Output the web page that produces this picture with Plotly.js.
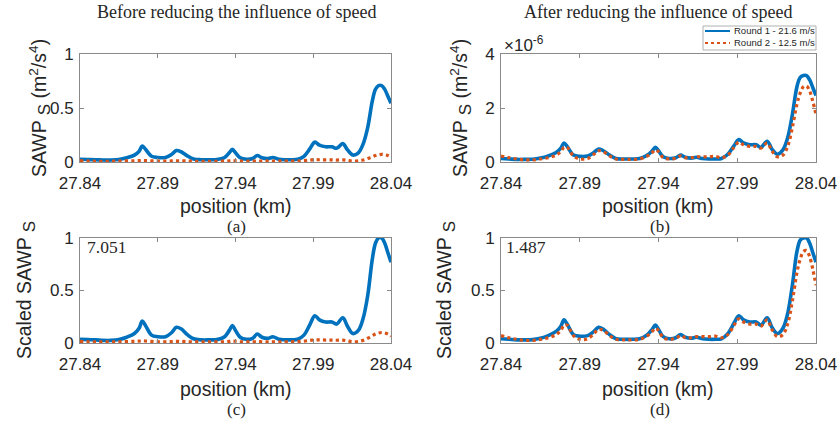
<!DOCTYPE html>
<html>
<head>
<meta charset="utf-8">
<script src="https://cdn.plot.ly/plotly-3.0.1.min.js"></script>
<style>html,body{margin:0;padding:0;background:#fff;}#chart{width:840px;height:424px;}</style>
</head>
<body>
<div id="chart"></div>
<script>
// position (km) knots shared by all series
const positionKm = [27.840,27.845,27.850,27.855,27.860,27.865,27.870,27.875,27.878,27.880,27.882,27.886,27.890,27.895,27.899,27.902,27.905,27.909,27.913,27.918,27.923,27.928,27.933,27.936,27.938,27.940,27.943,27.947,27.951,27.954,27.957,27.961,27.964,27.968,27.972,27.976,27.980,27.984,27.988,27.991,27.994,27.998,28.002,28.005,28.009,28.012,28.0155,28.019,28.022,28.025,28.028,28.030,28.032,28.034,28.036,28.038,28.040];

// (a) before reducing the influence of speed, SAWP_S (m^2/s^4)
const round1Before = [0.025,0.023,0.021,0.018,0.018,0.023,0.039,0.064,0.099,0.148,0.120,0.053,0.042,0.042,0.071,0.106,0.095,0.057,0.028,0.021,0.021,0.023,0.042,0.085,0.117,0.085,0.039,0.025,0.032,0.060,0.039,0.032,0.042,0.025,0.021,0.021,0.025,0.053,0.127,0.184,0.156,0.141,0.141,0.127,0.170,0.113,0.064,0.085,0.163,0.318,0.566,0.672,0.707,0.707,0.672,0.608,0.544];
const round2Before = [0.011,0.008,0.007,0.007,0.007,0.008,0.010,0.011,0.013,0.014,0.013,0.011,0.008,0.008,0.010,0.011,0.011,0.009,0.007,0.007,0.007,0.007,0.008,0.011,0.013,0.011,0.008,0.007,0.008,0.009,0.008,0.008,0.008,0.008,0.008,0.008,0.009,0.013,0.018,0.021,0.021,0.020,0.020,0.018,0.020,0.014,0.008,0.011,0.018,0.032,0.049,0.060,0.067,0.071,0.067,0.060,0.046];

// (b) after reducing the influence of speed, SAWP_S in units of 1e-6 m^2/s^4
const round1After_e6 = [0.128,0.112,0.096,0.096,0.102,0.144,0.224,0.352,0.512,0.704,0.576,0.256,0.208,0.224,0.352,0.480,0.416,0.256,0.128,0.112,0.112,0.128,0.256,0.416,0.544,0.416,0.192,0.128,0.160,0.256,0.176,0.144,0.176,0.128,0.112,0.112,0.128,0.288,0.608,0.832,0.704,0.640,0.640,0.544,0.768,0.480,0.288,0.448,0.896,1.760,2.816,3.136,3.200,3.200,3.040,2.752,2.464];
const round2After_e6 = [0.224,0.160,0.112,0.080,0.080,0.112,0.160,0.256,0.384,0.544,0.544,0.224,0.112,0.128,0.288,0.416,0.384,0.224,0.112,0.096,0.096,0.112,0.224,0.352,0.448,0.384,0.160,0.112,0.144,0.224,0.160,0.160,0.192,0.192,0.192,0.208,0.160,0.256,0.544,0.736,0.640,0.576,0.576,0.512,0.704,0.416,0.192,0.256,0.576,1.280,2.176,2.560,2.784,2.816,2.624,2.240,1.760];

// (c) scaled, before
const round1BeforeScaled = [0.035,0.032,0.03,0.025,0.025,0.033,0.055,0.09,0.14,0.21,0.17,0.075,0.06,0.06,0.10,0.15,0.135,0.08,0.04,0.03,0.03,0.032,0.06,0.12,0.165,0.12,0.055,0.035,0.045,0.085,0.055,0.045,0.06,0.035,0.03,0.03,0.035,0.075,0.18,0.26,0.22,0.20,0.20,0.18,0.24,0.16,0.09,0.12,0.23,0.45,0.80,0.95,1.0,1.0,0.95,0.86,0.77];
const round2BeforeScaled = [0.015,0.012,0.01,0.01,0.01,0.012,0.014,0.016,0.018,0.02,0.019,0.015,0.012,0.012,0.014,0.016,0.015,0.013,0.01,0.01,0.01,0.01,0.012,0.015,0.018,0.016,0.012,0.01,0.011,0.013,0.012,0.011,0.012,0.011,0.011,0.012,0.013,0.018,0.025,0.03,0.03,0.028,0.028,0.026,0.028,0.02,0.012,0.015,0.025,0.045,0.07,0.085,0.095,0.1,0.095,0.085,0.065];

// (d) scaled, after
const round1AfterScaled = [0.04,0.035,0.03,0.03,0.032,0.045,0.07,0.11,0.16,0.22,0.18,0.08,0.065,0.07,0.11,0.15,0.13,0.08,0.04,0.035,0.035,0.04,0.08,0.13,0.17,0.13,0.06,0.04,0.05,0.08,0.055,0.045,0.055,0.04,0.035,0.035,0.04,0.09,0.19,0.26,0.22,0.20,0.20,0.17,0.24,0.15,0.09,0.14,0.28,0.55,0.88,0.98,1.0,1.0,0.95,0.86,0.77];
const round2AfterScaled = [0.07,0.05,0.035,0.025,0.025,0.035,0.05,0.08,0.12,0.17,0.17,0.07,0.035,0.04,0.09,0.13,0.12,0.07,0.035,0.03,0.03,0.035,0.07,0.11,0.14,0.12,0.05,0.035,0.045,0.07,0.05,0.05,0.06,0.06,0.06,0.065,0.05,0.08,0.17,0.23,0.20,0.18,0.18,0.16,0.22,0.13,0.06,0.08,0.18,0.40,0.68,0.80,0.87,0.88,0.82,0.70,0.55];

const xTicks = [27.84, 27.89, 27.94, 27.99, 28.04];
const xTickText = ['27.84','27.89','27.94','27.99','28.04'];
const seriesNames = ['Round 1 - 21.6 m/s', 'Round 2 - 12.5 m/s'];
const panelTitles = ['Before reducing the influence of speed', 'After reducing the influence of speed'];
const panelLabels = ['(a)','(b)','(c)','(d)'];
const scaleFactors = ['7.051','1.487'];

const W = 840, H = 424;
const px = v => v / W;
const py = v => 1 - v / H;

const blue = '#0072BD', red = '#D95319';
const sansFont = '"Liberation Sans", Arial, sans-serif';
const serifFont = '"Liberation Serif", "Times New Roman", serif';
const tickColor = '#262626';
const frameColor = '#8a8a8a';

function mkTraces(y1, y2, xa, ya) {
  return [
    {x: positionKm, y: y1, xaxis: xa, yaxis: ya, type: 'scatter', mode: 'lines', name: seriesNames[0],
     line: {color: blue, width: 3.6, shape: 'spline', smoothing: 1}, showlegend: false},
    {x: positionKm, y: y2, xaxis: xa, yaxis: ya, type: 'scatter', mode: 'lines', name: seriesNames[1],
     line: {color: red, width: 3.2, dash: 'dot', shape: 'spline', smoothing: 1}, showlegend: false}
  ];
}

const data = [].concat(
  mkTraces(round1Before, round2Before, 'x', 'y'),
  mkTraces(round1After_e6, round2After_e6, 'x2', 'y2'),
  mkTraces(round1BeforeScaled, round2BeforeScaled, 'x3', 'y3'),
  mkTraces(round1AfterScaled, round2AfterScaled, 'x4', 'y4')
);

const leftDom = [px(80), px(391)], rightDom = [px(501), px(816)];
const topDom = [py(162), py(54)], botDom = [py(343), py(238)];

function xax(dom, anchor) {
  return {domain: dom, anchor: anchor, range: [27.84, 28.04], tickvals: xTicks, ticktext: xTickText,
    showline: true, mirror: 'ticks', linecolor: frameColor, linewidth: 1, ticks: 'inside', ticklen: 4,
    tickcolor: frameColor, showgrid: false, zeroline: false, ticklabelstandoff: 6,
    tickfont: {family: sansFont, size: 17, color: tickColor}};
}
function yax(dom, anchor, range, tv) {
  return {domain: dom, anchor: anchor, range: range, tickvals: tv, ticktext: tv.map(String),
    showline: true, mirror: 'ticks', linecolor: frameColor, linewidth: 1, ticks: 'inside', ticklen: 4,
    tickcolor: frameColor, showgrid: false, zeroline: false, ticklabelstandoff: 2,
    tickfont: {family: sansFont, size: 17, color: tickColor}};
}

const ann = [];
function addText(text, x, y, size, family, opts) {
  ann.push(Object.assign({text: text, x: px(x), y: py(y), xref: 'paper', yref: 'paper', showarrow: false,
    font: {family: family, size: size, color: tickColor}, xanchor: 'center', yanchor: 'middle'}, opts || {}));
}
const subS = ' <sub><span style="font-size:17px">S</span></sub>';
addText(panelTitles[0], 236, 12, 18, serifFont);
addText(panelTitles[1], 658, 12, 18, serifFont);
addText('position (km)', 236, 206, 19.5, sansFont);
addText('position (km)', 658, 206, 19.5, sansFont);
addText('position (km)', 236, 389, 19.5, sansFont);
addText('position (km)', 658, 389, 19.5, sansFont);
addText(panelLabels[0], 236, 226, 17, serifFont);
addText(panelLabels[1], 660, 226, 17, serifFont);
addText(panelLabels[2], 236, 409, 17, serifFont);
addText(panelLabels[3], 660, 409, 17, serifFont);
addText('SAWP' + subS + ' (m<sup>2</sup>/s<sup>4</sup>)', 40, 108, 19.5, sansFont, {textangle: -90});
addText('SAWP' + subS + ' (m<sup>2</sup>/s<sup>4</sup>)', 461, 108, 19.5, sansFont, {textangle: -90});
addText('Scaled SAWP' + subS, 26, 290, 19.5, sansFont, {textangle: -90});
addText('Scaled SAWP' + subS, 446, 290, 19.5, sansFont, {textangle: -90});
addText(scaleFactors[0], 85, 247, 17.5, serifFont, {xanchor: 'left'});
addText(scaleFactors[1], 504, 247, 17.5, serifFont, {xanchor: 'left'});
addText('×10<sup>-6</sup>', 502, 44, 17, sansFont, {xanchor: 'left'});

// hand-placed legend (box, samples, labels)
const legendShapes = [
  {type: 'rect', xref: 'paper', yref: 'paper', x0: px(703), x1: px(816), y0: py(50), y1: py(26),
   line: {color: '#b0b0b0', width: 1}, fillcolor: '#fff', layer: 'above'},
  {type: 'line', xref: 'paper', yref: 'paper', x0: px(705), x1: px(730), y0: py(31), y1: py(31),
   line: {color: blue, width: 2}},
  {type: 'line', xref: 'paper', yref: 'paper', x0: px(705), x1: px(730), y0: py(43), y1: py(43),
   line: {color: red, width: 2, dash: 'dot'}}
];
addText(seriesNames[0], 732, 31, 9.5, sansFont, {xanchor: 'left'});
addText(seriesNames[1], 732, 43, 9.5, sansFont, {xanchor: 'left'});

const layout = {
  width: W, height: H, margin: {l: 0, r: 0, t: 0, b: 0},
  paper_bgcolor: '#fff', plot_bgcolor: '#fff',
  showlegend: false,
  xaxis: xax(leftDom, 'y'), yaxis: yax(topDom, 'x', [0, 1], [0, 0.5, 1]),
  xaxis2: xax(rightDom, 'y2'), yaxis2: yax(topDom, 'x2', [0, 4], [0, 2, 4]),
  xaxis3: xax(leftDom, 'y3'), yaxis3: yax(botDom, 'x3', [0, 1], [0, 0.5, 1]),
  xaxis4: xax(rightDom, 'y4'), yaxis4: yax(botDom, 'x4', [0, 1], [0, 0.5, 1]),
  shapes: legendShapes,
  annotations: ann
};

Plotly.newPlot('chart', data, layout, {staticPlot: true, displayModeBar: false});
</script>
</body>
</html>
